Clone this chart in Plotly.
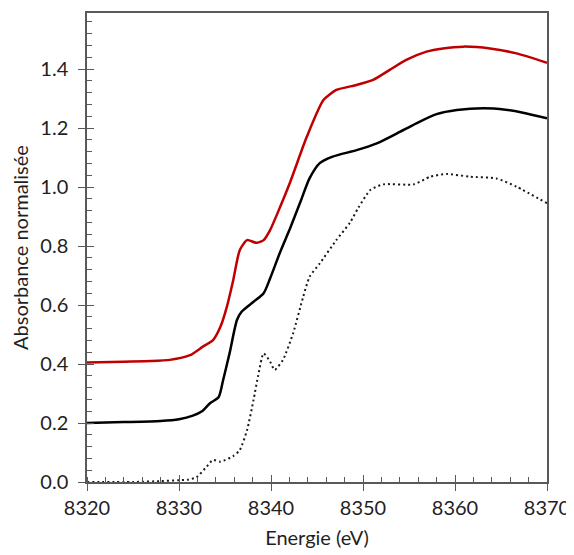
import plotly.graph_objects as go

# Energies (eV) and normalised absorbance
black_E = [8320, 8324, 8328, 8330, 8331.5, 8332.5, 8333.4, 8334.3, 8334.8, 8335.5, 8336.3, 8336.8,
           8338.1, 8339.2, 8339.9, 8341.0, 8342.1, 8343.2, 8344.2, 8345.3, 8346.7, 8349.3,
           8351.5, 8353.7, 8355.8, 8358.0, 8360.2, 8363.1, 8365.5, 8367.4, 8370]
black_v = [0.200, 0.203, 0.207, 0.213, 0.225, 0.240, 0.268, 0.287, 0.346, 0.437, 0.549, 0.577,
           0.611, 0.640, 0.690, 0.780, 0.862, 0.950, 1.030, 1.081, 1.103, 1.125,
           1.148, 1.182, 1.216, 1.247, 1.261, 1.267, 1.262, 1.252, 1.233]

red_E = [8320, 8324, 8327, 8329.0, 8331.2, 8332.6, 8333.7, 8334.5, 8335.2, 8335.9, 8336.6,
         8337.4, 8338.4, 8339.2, 8339.9, 8341.0, 8342.1, 8343.9, 8345.7, 8347.1, 8349.3,
         8351.1, 8352.9, 8354.7, 8356.9, 8358.7, 8360.9, 8363.8, 8366.7, 8370]
red_v = [0.405, 0.408, 0.410, 0.414, 0.430, 0.459, 0.481, 0.526, 0.594, 0.685, 0.786,
         0.820, 0.811, 0.820, 0.854, 0.933, 1.018, 1.171, 1.295, 1.329, 1.346,
         1.363, 1.397, 1.431, 1.459, 1.470, 1.476, 1.470, 1.453, 1.421]

dot_E = [8320, 8325, 8328, 8330, 8331.0, 8331.9, 8333.0, 8333.7, 8334.5, 8335.9, 8336.6,
         8337.4, 8338.1, 8338.6, 8339.2, 8339.9, 8340.4, 8341.3, 8342.4, 8343.5, 8344.2,
         8345.3, 8347.1, 8348.6, 8349.5, 8350.8, 8352.2, 8355.5, 8357.3, 8359.1, 8361.6,
         8364.5, 8366.7, 8370]
dot_v = [0.000, 0.000, 0.003, 0.006, 0.008, 0.016, 0.052, 0.075, 0.069, 0.088, 0.108,
         0.176, 0.278, 0.360, 0.436, 0.408, 0.380, 0.414, 0.504, 0.628, 0.696,
         0.741, 0.820, 0.880, 0.930, 0.990, 1.009, 1.009, 1.035, 1.044, 1.035,
         1.029, 1.001, 0.945]

x_ticks = [8320, 8330, 8340, 8350, 8360, 8370]
y_ticks = [0.0, 0.2, 0.4, 0.6, 0.8, 1.0, 1.2, 1.4]
x_range = [8320, 8370]
y_range = [0, 1.59]

FONT = "Lato, 'Open Sans', sans-serif"
AX = "#595959"
TXT = "#1f1f1f"
FS = 20

fig = go.Figure()
fig.add_trace(go.Scatter(x=dot_E, y=dot_v, mode="lines", line=dict(color="#1a1a1a", width=2, dash="2px,3px", shape="spline", smoothing=0.6)))
fig.add_trace(go.Scatter(x=black_E, y=black_v, mode="lines", line=dict(color="#000000", width=2.5, shape="spline", smoothing=0.7)))
fig.add_trace(go.Scatter(x=red_E, y=red_v, mode="lines", line=dict(color="#c00000", width=2.5, shape="spline", smoothing=0.6)))

fig.update_layout(
    width=566, height=547,
    margin=dict(l=79, r=27, t=5, b=73),
    paper_bgcolor="white", plot_bgcolor="white",
    showlegend=False,
    font=dict(family=FONT, size=FS, color=TXT),
    xaxis=dict(range=x_range, tickmode="array", tickvals=x_ticks, automargin=False,
               ticktext=[str(v) for v in x_ticks], tickfont=dict(size=FS),
               showgrid=False, zeroline=False, showline=True, linecolor=AX, linewidth=1.5,
               mirror=True, ticks="outside", ticklen=7, tickcolor=AX, tickwidth=1.3,
               minor=dict(dtick=2, ticks="inside", ticklen=5, tickcolor=AX, tickwidth=1.3, showgrid=False),
               title=dict(text="Energie (eV)", font=dict(size=FS), standoff=13)),
    yaxis=dict(range=y_range, tickmode="array", tickvals=y_ticks, automargin=False,
               ticktext=[f"{v:.1f}" for v in y_ticks], tickfont=dict(size=FS),
               ticklabelstandoff=6,
               showgrid=False, zeroline=False, showline=True, linecolor=AX, linewidth=1.5,
               mirror=True, ticks="outside", ticklen=7, tickcolor=AX, tickwidth=1.3,
               minor=dict(tickvals=[round(i * 0.04, 2) for i in range(40) if i % 5 != 0],
                          ticks="inside", ticklen=5, tickcolor=AX, tickwidth=1.3, showgrid=False),
               title=dict(text="Absorbance normalisée", font=dict(size=FS), standoff=12)),
    xaxis2=dict(overlaying="x", range=x_range, tickmode="array", tickvals=x_ticks, automargin=False,
                showticklabels=False, showgrid=False, zeroline=False, showline=False,
                ticks="inside", ticklen=7, tickcolor=AX, tickwidth=1.3, side="bottom"),
    yaxis2=dict(overlaying="y", range=y_range, tickmode="array", tickvals=y_ticks, automargin=False,
                showticklabels=False, showgrid=False, zeroline=False, showline=False,
                ticks="inside", ticklen=7, tickcolor=AX, tickwidth=1.3, side="left"),
)
# invisible trace to activate the overlay axes
fig.add_trace(go.Scatter(x=[x_range[0]], y=[y_range[0]], xaxis="x2", yaxis="y2",
                         mode="markers", marker=dict(opacity=0), hoverinfo="skip"))

fig.write_html("out.html")
